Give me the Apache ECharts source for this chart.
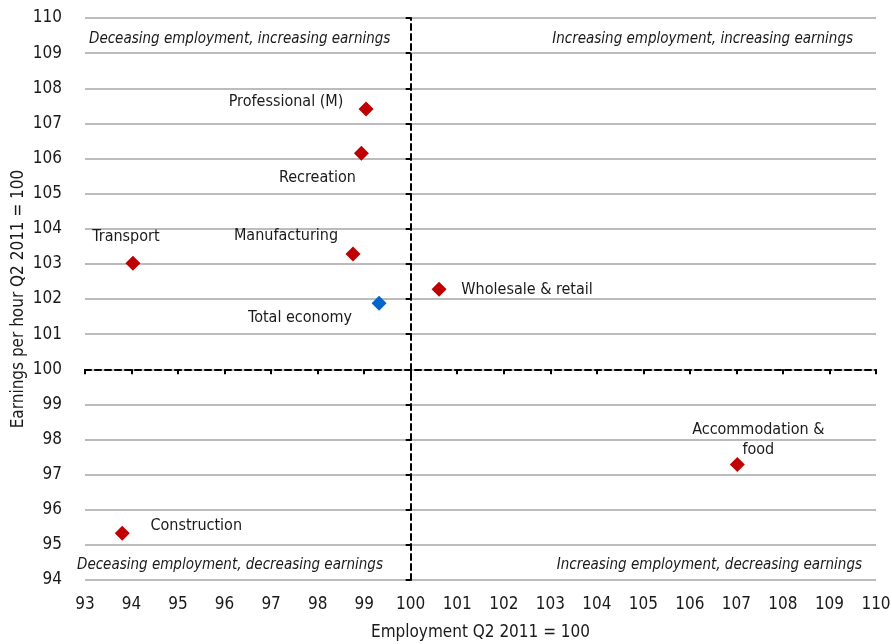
<!DOCTYPE html>
<html>
<head>
<meta charset="utf-8">
<script src="https://cdn.jsdelivr.net/npm/echarts@6/dist/echarts.min.js"></script>
<style>
  body { margin: 0; background: #fff; }
  #main { width: 892px; height: 644px; }
</style>
</head>
<body>
<div id="main"></div>
<script>
var sectors = ["Professional (M)", "Recreation", "Transport", "Manufacturing", "Wholesale & retail", "Accommodation &\nfood", "Construction"];
var employment = [99.04, 98.94, 94.03, 98.76, 100.61, 107.02, 93.8];
var earnings = [107.41, 106.15, 103.02, 103.28, 102.28, 97.29, 95.33];
var totalName = "Total economy";
var totalPoint = [99.32, 101.88];
// label offsets from each point, px
var labelOffsets = [[-80, -7], [-44, 25], [-7, -26], [-67, -18], [88, 1], [21, -25], [74, -7]];

var font = "DejaVu Sans Condensed, DejaVu Sans";
var gridLeft = 85, gridRight = 16, gridTop = 18, gridBottom = 64;
var plotW = 892 - gridLeft - gridRight;
var plotH = 644 - gridTop - gridBottom;
var xMin = 93, xMax = 110, yMin = 94, yMax = 110;
// where the 100 lines cross
var xCross = (100 - xMin) / (xMax - xMin) * plotW;
var yCross = (100 - yMin) / (yMax - yMin) * plotH;

var sectorData = [];
for (var i = 0; i < sectors.length; i++) {
  sectorData.push({
    name: sectors[i],
    value: [employment[i], earnings[i]],
    label: { offset: labelOffsets[i] }
  });
}

var dashStyle = { color: "#000", width: 2, type: [6, 4] };
var labelStyle = {
  show: true, position: "inside", formatter: "{b}",
  fontFamily: font, fontSize: 16, color: "#1a1a1a", opacity: 1, lineHeight: 20,
  align: "center", verticalAlign: "middle"
};

var option = {
  animation: false,
  grid: {
    left: gridLeft, right: gridRight, top: gridTop, bottom: gridBottom,
    outerBoundsMode: "none", containLabel: false
  },
  xAxis: [
    {
      type: "value", min: xMin, max: xMax, interval: 1,
      name: "Employment Q2 2011 = 100", nameLocation: "middle", nameGap: 44,
      nameTextStyle: { fontFamily: font, fontSize: 17, color: "#1a1a1a" },
      axisLine: { show: false }, axisTick: { show: false },
      splitLine: { show: false },
      axisLabel: { fontFamily: font, fontSize: 17, color: "#1a1a1a", margin: 16 }
    },
    {
      type: "value", min: xMin, max: xMax, interval: 1, position: "bottom",
      offset: -yCross,
      axisLine: { show: true, lineStyle: dashStyle },
      axisTick: { show: true, length: 5, lineStyle: { color: "#000", width: 2 } },
      axisLabel: { show: false }, splitLine: { show: false }
    }
  ],
  yAxis: [
    {
      type: "value", min: yMin, max: yMax, interval: 1,
      name: "Earnings per hour Q2 2011 = 100", nameLocation: "middle", nameGap: 58,
      nameMoveOverlap: false,
      nameTextStyle: { fontFamily: font, fontSize: 17, color: "#1a1a1a" },
      axisLine: { show: false }, axisTick: { show: false },
      splitLine: { show: true, lineStyle: { color: "#a6a6a6", width: 1.5 } },
      axisLabel: { fontFamily: font, fontSize: 17, color: "#1a1a1a", margin: 23 }
    },
    {
      type: "value", min: yMin, max: yMax, interval: 1, position: "left",
      offset: -xCross,
      axisLine: { show: true, lineStyle: dashStyle },
      axisTick: { show: true, length: 5, lineStyle: { color: "#000", width: 2 } },
      axisLabel: { show: false }, splitLine: { show: false }
    }
  ],
  series: [
    {
      type: "scatter", symbol: "diamond", symbolSize: 15,
      xAxisIndex: 0, yAxisIndex: 0,
      itemStyle: { color: "#c00000", opacity: 1 },
      label: labelStyle,
      data: sectorData
    },
    {
      type: "scatter", symbol: "diamond", symbolSize: 15,
      xAxisIndex: 0, yAxisIndex: 0,
      itemStyle: { color: "#0066cc", opacity: 1 },
      label: Object.assign({}, labelStyle, { offset: [-79, 15] }),
      data: [{ name: totalName, value: totalPoint }]
    }
  ],
  graphic: [
    { type: "text", left: 89, top: 32, style: { text: "Deceasing employment, increasing earnings", font: "italic 15px " + font, fill: "#1a1a1a" } },
    { type: "text", right: 39, top: 32, style: { text: "Increasing employment, increasing earnings", font: "italic 15px " + font, fill: "#1a1a1a" } },
    { type: "text", left: 77, top: 558, style: { text: "Deceasing employment, decreasing earnings", font: "italic 15px " + font, fill: "#1a1a1a" } },
    { type: "text", right: 30, top: 558, style: { text: "Increasing employment, decreasing earnings", font: "italic 15px " + font, fill: "#1a1a1a" } }
  ]
};

var chartDom = document.getElementById("main");
var myChart = echarts.init(chartDom);
myChart.setOption(option);
</script>
</body>
</html>
